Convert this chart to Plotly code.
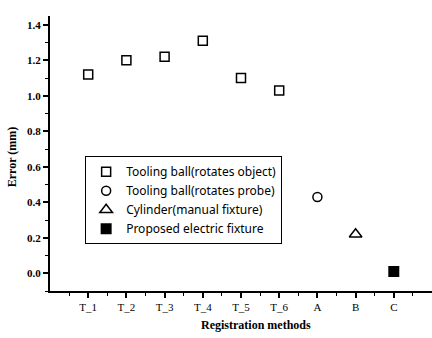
import plotly.graph_objects as go

categories = ["T_1", "T_2", "T_3", "T_4", "T_5", "T_6", "A", "B", "C"]
positions = [1, 2, 3, 4, 5, 6, 7, 8, 9]

tooling_obj_x = [1, 2, 3, 4, 5, 6]
tooling_obj_y = [1.12, 1.20, 1.22, 1.31, 1.10, 1.03]
tooling_probe_x = [7]
tooling_probe_y = [0.43]
cylinder_x = [8]
cylinder_y = [0.22]
proposed_x = [9]
proposed_y = [0.01]

y_ticks = [0.0, 0.2, 0.4, 0.6, 0.8, 1.0, 1.2, 1.4]

fig = go.Figure()
fig.add_trace(go.Scatter(x=tooling_obj_x, y=tooling_obj_y, mode="markers",
                         name="Tooling ball(rotates object)",
                         marker=dict(symbol="square-open", size=9, color="black", line=dict(width=1.5))))
fig.add_trace(go.Scatter(x=tooling_probe_x, y=tooling_probe_y, mode="markers",
                         name="Tooling ball(rotates probe)",
                         marker=dict(symbol="circle-open", size=9, color="black", line=dict(width=1.5))))
fig.add_trace(go.Scatter(x=cylinder_x, y=cylinder_y, mode="markers",
                         name="Cylinder(manual fixture)",
                         marker=dict(symbol="triangle-up-open", size=11, color="black", line=dict(width=1.5))))
fig.add_trace(go.Scatter(x=proposed_x, y=proposed_y, mode="markers",
                         name="Proposed electric fixture",
                         marker=dict(symbol="square", size=11, color="black")))

axis_font = dict(family="Liberation Serif", size=11, color="black", weight="bold")
title_font = dict(family="Liberation Serif", size=12, color="black", weight="bold")

fig.update_layout(
    width=432, height=338,
    margin=dict(l=50, r=0, t=16, b=47),
    paper_bgcolor="white", plot_bgcolor="white",
    showlegend=True,
    legend=dict(x=0.092, y=0.49, xanchor="left", yanchor="top",
                bordercolor="black", borderwidth=1, bgcolor="white",
                font=dict(family="Noto Sans", size=12, color="black"),
                tracegroupgap=0, itemwidth=30),
    xaxis=dict(range=[0, 10], tickvals=positions, ticktext=categories,
               automargin=False,
               showline=True, linecolor="black", linewidth=2,
               ticks="outside", ticklen=5, tickwidth=1.5, tickcolor="black",
               minor=dict(tickvals=[0.5 + i for i in range(10)], ticks="outside", ticklen=3, tickcolor="black", tickwidth=1),
               showgrid=False, zeroline=False,
               tickfont=dict(family="Liberation Serif", size=11, color="black")),
    yaxis=dict(range=[-0.1, 1.45], tickvals=y_ticks, ticktext=[f"{v:.1f}" for v in y_ticks],
               automargin=False,
               showline=True, linecolor="black", linewidth=2,
               ticks="outside", ticklen=5, tickwidth=1.5, tickcolor="black",
               minor=dict(tickvals=[0.1 + 0.2 * i for i in range(7)] + [-0.1], ticks="outside", ticklen=3, tickcolor="black", tickwidth=1),
               showgrid=False, zeroline=False,
               tickfont=axis_font),
    annotations=[
        dict(text="Registration methods", x=0.539, y=-0.124, xref="paper", yref="paper",
             xanchor="center", yanchor="middle", showarrow=False, font=title_font),
        dict(text="Error (mm)", x=-0.099, y=0.487, xref="paper", yref="paper", textangle=-90,
             xanchor="center", yanchor="middle", showarrow=False, font=title_font),
    ],
)

fig.write_html("out.html", config={"displayModeBar": False},
               post_script="document.body.style.margin='0';")
